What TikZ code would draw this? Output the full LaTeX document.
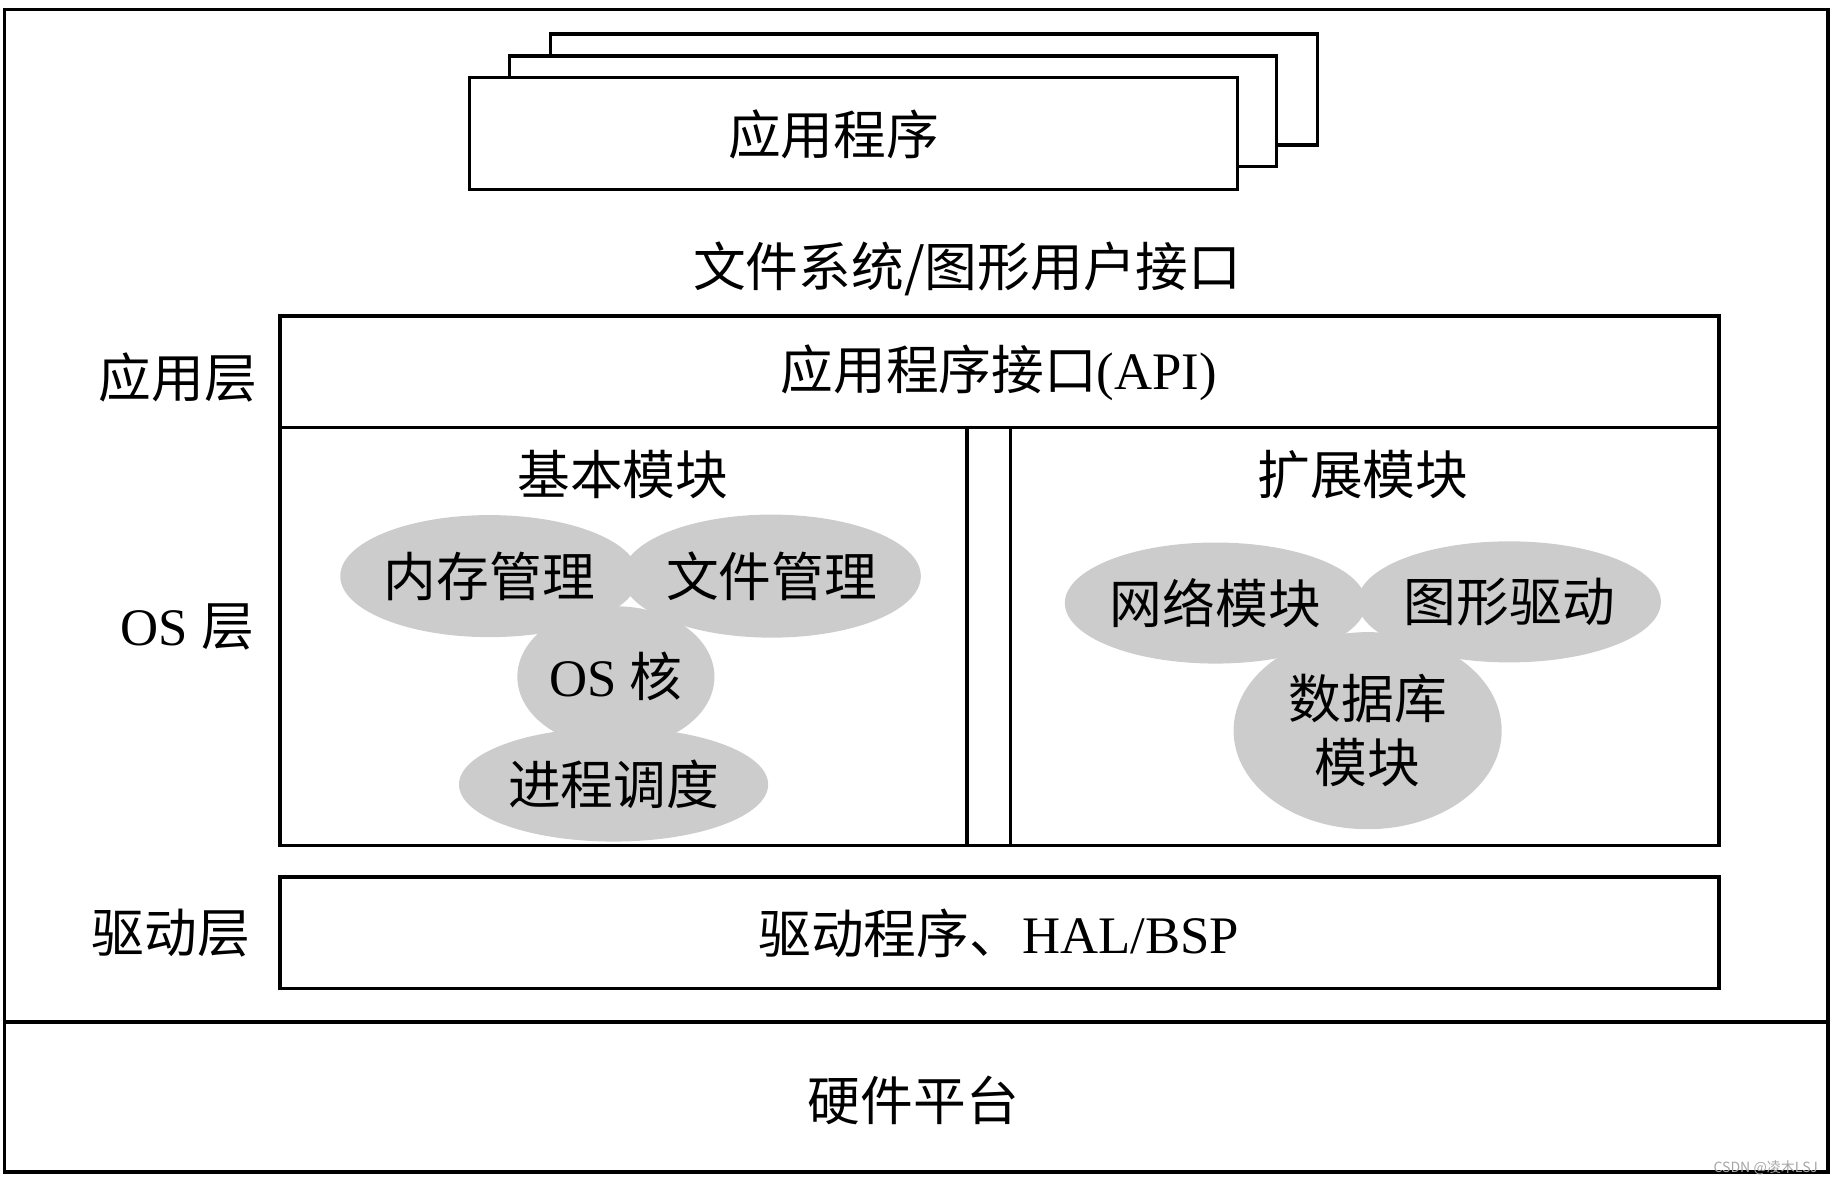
\documentclass[tikz,border=0pt]{standalone}
\usepackage{fontspec}
\setmainfont{Liberation Serif}
\newfontfamily\zh{Noto Sans CJK SC}
\usetikzlibrary{shapes.geometric}

\begin{document}
\begin{tikzpicture}
		[x=0.01171cm,y=-0.01171cm,line width=1pt,
		every node/.style={font=\fontsize{15}{18.3}\selectfont},
		blob/.style={ellipse,fill=gray!40,inner sep=0pt},
		box/.style={draw,fill=white}]
		\useasboundingbox (0,0) rectangle (1568,1010);
		
		% frame and layers
		\draw[] (4,8) rectangle (1561,1001);
		\draw[] (4,873) -- (1561,873);
		\draw[box] (470,29) rectangle (1125,124);
		\draw[box] (435,48) rectangle (1090,142);
		\draw[box] (401,66) rectangle (1057,162);
		\draw[] (239,270) rectangle (1468,722);
		\draw[] (239,365) -- (1468,365);
		\draw[] (826,365) -- (826,722);
		\draw[] (863,365) -- (863,722);
		\draw[] (239,749) rectangle (1468,844);
		
		\node (app) at (712,115) {\zh 应用程序};
		\node (fsgui) at (826,230) {\zh 文件系统/图形用户接口};
		\node (api) at (853,318) {{\zh 应用程序接口}(API)};
		\node (drv) at (853,797) {{\zh 驱动程序、}HAL/BSP};
		\node (hw) at (780,940) {\zh 硬件平台};
		
		\node (lapp) at (152,322) {\zh 应用层};
		\node (los) at (160,535) {OS {\zh 层}};
		\node (ldrv) at (146,797) {\zh 驱动层};
		
		% modules
		\node (base) at (532,405) {\zh 基本模块};
		\node (ext) at (1164,405) {\zh 扩展模块};
		
		\node[blob,minimum width=1.97cm,minimum height=1.41cm] (core) at (526,578) {OS {\zh 核}};
		\node[blob,minimum width=2.97cm,minimum height=1.22cm] (mem) at (418,492) {\zh 内存管理};
		\node[blob,minimum width=2.93cm,minimum height=1.23cm] (file) at (659,492) {\zh 文件管理};
		\node[blob,minimum width=3.09cm,minimum height=1.14cm] (sched) at (524,670) {\zh 进程调度};
		
		\node[blob,minimum width=2.68cm,minimum height=1.97cm,align=center,font=\zh\fontsize{15}{18.3}\selectfont] (db) at (1168,624) {数据库\\模块};
		\node[blob,minimum width=3.01cm,minimum height=1.21cm] (net) at (1038,515) {\zh 网络模块};
		\node[blob,minimum width=3.03cm,minimum height=1.21cm] (gfx) at (1289,514) {\zh 图形驱动};
		
		\node[font=\zh\fontsize{4}{5}\selectfont,text=gray!70] (mark) at (1508,997) {CSDN @凌木LSJ};
\end{tikzpicture}
\end{document}
